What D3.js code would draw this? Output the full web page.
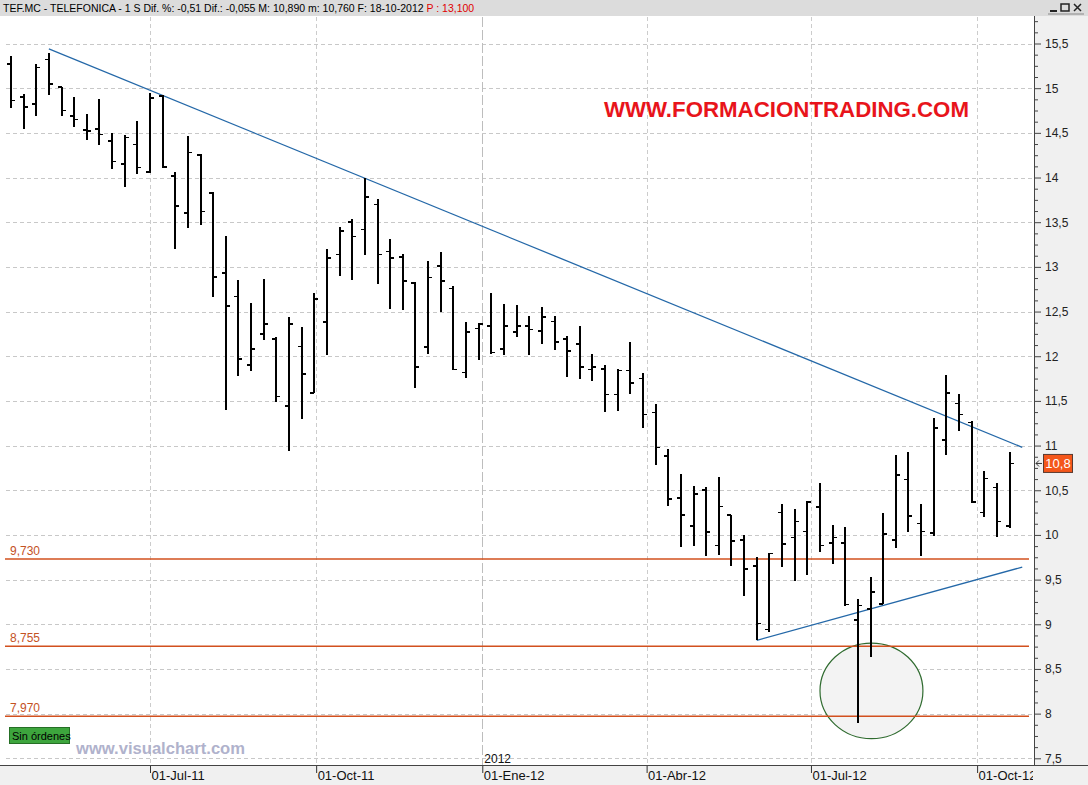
<!DOCTYPE html>
<meta charset="utf-8">
<style>
body { margin:0; background:#fff; }
svg { display:block; font-family:'Liberation Sans', Arial, sans-serif; }
</style>
<script src="https://d3js.org/d3.v7.min.js"></script>
<body>
<svg id="chart" width="1088" height="785"></svg>
<script>

// weekly bars, TEF.MC
var firstWeek = new Date(2011, 3, 15)
var opens = [15.27,14.90,14.82,15.32,15.01,14.69,14.53,14.54,14.41,14.15,
  14.37,14.06,14.91,14.02,13.60,14.25,13.83,12.93,12.67,11.90,
  12.25,12.19,11.44,12.11,11.59,12.38,13.14,13.50,13.42,13.70,
  13.17,13.11,12.82,12.10,13.01,12.76,11.82,12.31,12.34,12.08,
  12.27,12.34,12.28,12.39,12.19,12.14,11.85,11.86,11.57,11.84,
  11.75,11.37,10.88,10.41,10.10,10.50,9.88,10.22,9.94,9.65,
  8.94,10.25,9.97,10.04,10.31,9.91,9.91,9.05,9.17,9.23,
  9.94,10.62,10.13,10.02,11.06,11.47,11.26,10.25,10.53,10.10]
var highs = [15.36,14.94,15.27,15.39,15.01,14.90,14.71,14.88,14.50,14.48,
  14.63,14.95,14.92,14.06,14.47,14.26,13.84,13.35,12.85,12.60,
  12.86,12.22,12.44,12.33,12.71,13.20,13.45,13.54,13.99,13.76,
  13.31,13.14,12.83,13.07,13.17,12.79,12.38,12.37,12.71,12.58,
  12.57,12.45,12.55,12.45,12.23,12.34,12.03,11.90,11.86,12.16,
  11.81,11.47,10.96,10.68,10.55,10.54,10.65,10.22,10.00,9.75,
  9.80,10.35,10.29,10.38,10.58,10.11,10.09,9.28,9.53,10.24,
  10.89,10.93,10.35,11.31,11.79,11.58,11.27,10.72,10.58,10.93]
var lows = [14.78,14.54,14.69,14.92,14.69,14.56,14.42,14.36,14.10,13.89,
  14.04,14.05,14.11,13.20,13.43,13.47,12.66,11.40,11.78,11.84,
  12.18,11.49,10.94,11.30,11.59,12.01,12.90,12.85,13.13,12.81,
  12.53,12.52,11.64,12.02,12.49,11.85,11.76,11.96,12.02,12.01,
  12.22,12.01,12.14,12.07,11.77,11.74,11.72,11.38,11.39,11.58,
  11.20,10.78,10.32,9.87,9.88,9.76,9.78,9.65,9.32,8.82,
  8.91,9.64,9.48,9.55,9.81,9.67,9.21,7.90,8.63,9.23,
  9.85,10.03,9.76,9.99,10.89,11.16,10.36,10.20,9.98,10.08]
var closes = [14.86,14.79,15.23,15.05,14.75,14.65,14.52,14.48,14.18,14.45,
  14.11,14.89,14.12,13.68,14.28,13.62,12.89,12.56,11.97,12.08,
  12.36,11.55,12.36,11.80,12.64,13.10,13.40,13.34,13.78,13.14,
  13.10,12.84,11.88,12.88,12.84,11.85,12.27,12.36,12.04,12.34,
  12.34,12.30,12.44,12.16,12.06,11.88,11.88,11.57,11.84,11.70,
  11.35,10.98,10.40,10.22,10.46,10.03,10.32,9.93,9.62,9.01,
  9.79,9.90,10.15,10.37,9.88,9.97,9.22,9.21,9.36,10.01,
  10.67,10.21,10.04,11.20,11.59,11.35,10.37,10.63,10.15,10.80]

var quarterTicks = [new Date(2011,6,1), new Date(2011,9,1), new Date(2012,0,1),
  new Date(2012,3,1), new Date(2012,6,1), new Date(2012,9,1)]
var monthsEs = ["Ene","Feb","Mar","Abr","May","Jun","Jul","Ago","Sep","Oct","Nov","Dic"]

var levels = [9.73, 8.755, 7.97]
var levelLabels = ["9,730", "8,755", "7,970"]
var downTrend = [[new Date(2011,4,6), 15.44], [new Date(2012,9,26), 10.98]]
var upTrend = [[new Date(2012,5,1), 8.82], [new Date(2012,9,26), 9.64]]
var circleBox = [[new Date(2012,6,6), 8.79], [new Date(2012,8,1), 7.72]]
var lastPrice = 10.8

var width = 1088, height = 785
var plotRight = 1034, plotTop = 17, plotBottom = 765

var es = d3.formatLocale({decimal: ",", thousands: ".", grouping: [3], currency: ["", "€"]})
var fmt = es.format("~g")

var weeks = opens.map(function(d, i) { return d3.timeDay.offset(firstWeek, 7 * i) })
var bars = weeks.map(function(d, i) {
  return {date: d, o: opens[i], h: highs[i], l: lows[i], c: closes[i]}
})

var x = d3.scaleTime()
  .domain([quarterTicks[0], quarterTicks[5]])
  .range([150, 977.1])
var y = d3.scaleLinear()
  .domain([7.5, 15.5])
  .range([758.3, 43.5])

var svg = d3.select("#chart")

svg.append("rect").attr("width", width).attr("height", height).attr("fill", "#fff")

// header
svg.append("rect").attr("width", width).attr("height", plotTop - 1).attr("fill", "#dcdcdc")
var head = svg.append("text")
  .attr("x", 3).attr("y", 12)
  .style("font-size", "10.5px")
head.append("tspan")
  .text("TEF.MC - TELEFONICA - 1 S Dif. %: -0,51 Dif.: -0,055 M: 10,890 m: 10,760 F: 18-10-2012 ")
head.append("tspan").attr("fill", "#e00000").text("P : 13,100")

// window buttons
var btn = svg.append("g").attr("stroke", "#222").attr("fill", "none")
btn.append("line").attr("x1", 1050).attr("x2", 1057).attr("y1", 11).attr("y2", 11).attr("stroke-width", 2)
btn.append("rect").attr("x", 1061).attr("y", 4).attr("width", 8).attr("height", 7).attr("stroke-width", 1.5)
btn.append("path").attr("d", "M1074,4L1081,11M1081,4L1074,11").attr("stroke-width", 1.5)
btn.append("line").attr("x1", 1048).attr("x2", 1084).attr("y1", 14).attr("y2", 14).attr("stroke", "#888")

// grid
var yMajor = d3.range(7.5, 15.51, 0.5)
svg.append("g").selectAll("line")
  .data(yMajor)
  .enter().append("line")
  .attr("x1", 6).attr("x2", plotRight)
  .attr("y1", function(d) { return Math.round(y(d)) + 0.5 })
  .attr("y2", function(d) { return Math.round(y(d)) + 0.5 })
  .attr("stroke", "#c8c8c8").attr("stroke-dasharray", "4,3")

svg.append("g").selectAll("line")
  .data(quarterTicks)
  .enter().append("line")
  .attr("x1", function(d) { return Math.round(x(d)) + 0.5 })
  .attr("x2", function(d) { return Math.round(x(d)) + 0.5 })
  .attr("y1", plotTop).attr("y2", plotBottom)
  .attr("stroke", function(d) { return d.getMonth() == 0 ? "#bdbdbd" : "#cccccc" })
  .attr("stroke-dasharray", function(d) { return d.getMonth() == 0 ? "10,3" : "4,3" })

// circle around the spike
var cx0 = x(circleBox[0][0]), cx1 = x(circleBox[1][0])
var cy0 = y(circleBox[0][1]), cy1 = y(circleBox[1][1])
svg.append("ellipse")
  .attr("cx", (cx0 + cx1) / 2).attr("cy", (cy0 + cy1) / 2)
  .attr("rx", (cx1 - cx0) / 2).attr("ry", (cy1 - cy0) / 2)
  .attr("fill", "#f3f3f3").attr("stroke", "#2f6b2f").attr("stroke-width", 1.2)

// support levels
var lev = svg.append("g")
lev.selectAll("line")
  .data(levels)
  .enter().append("line")
  .attr("x1", 5).attr("x2", 1029)
  .attr("y1", function(d) { return y(d) }).attr("y2", function(d) { return y(d) })
  .attr("stroke", "#d2501e").attr("stroke-width", 1.5)
lev.selectAll("text")
  .data(levels)
  .enter().append("text")
  .attr("x", 10).attr("y", function(d) { return y(d) - 4 })
  .style("font-size", "12px").attr("fill", "#c4521f")
  .text(function(d, i) { return levelLabels[i] })

// trend lines
var line = d3.line()
  .x(function(d) { return x(d[0]) })
  .y(function(d) { return y(d[1]) })
svg.append("path").attr("d", line(downTrend))
  .attr("fill", "none").attr("stroke", "#2468a8").attr("stroke-width", 1.3)
svg.append("path").attr("d", line(upTrend))
  .attr("fill", "none").attr("stroke", "#2468a8").attr("stroke-width", 1.3)

// OHLC bars
var g = svg.append("g").attr("stroke", "#000").attr("shape-rendering", "crispEdges")
var bar = g.selectAll("g.bar")
  .data(bars)
  .enter().append("g").attr("class", "bar")
bar.append("line")
  .attr("x1", function(d) { return x(d.date) }).attr("x2", function(d) { return x(d.date) })
  .attr("y1", function(d) { return y(d.h) }).attr("y2", function(d) { return y(d.l) })
  .attr("stroke-width", 2)
bar.append("line")
  .attr("x1", function(d) { return x(d.date) - 4 }).attr("x2", function(d) { return x(d.date) })
  .attr("y1", function(d) { return y(d.o) }).attr("y2", function(d) { return y(d.o) })
  .attr("stroke-width", 1.6)
bar.append("line")
  .attr("x1", function(d) { return x(d.date) }).attr("x2", function(d) { return x(d.date) + 4 })
  .attr("y1", function(d) { return y(d.c) }).attr("y2", function(d) { return y(d.c) })
  .attr("stroke-width", 1.6)

// texts on the chart
svg.append("text")
  .attr("x", 604).attr("y", 117)
  .style("font-size", "22px").style("font-weight", "bold").attr("fill", "#e8141b")
  .attr("textLength", 365).attr("lengthAdjust", "spacingAndGlyphs")
  .text("WWW.FORMACIONTRADING.COM")

svg.append("text")
  .attr("x", 76).attr("y", 754)
  .style("font-size", "16px").style("font-weight", "bold").attr("fill", "#b0b2cc")
  .attr("textLength", 169).attr("lengthAdjust", "spacingAndGlyphs")
  .text("www.visualchart.com")

svg.append("rect")
  .attr("x", 9.5).attr("y", 727.5).attr("width", 60).attr("height", 16)
  .attr("fill", "#3da53d").attr("stroke", "#256f25")
svg.append("text")
  .attr("x", 12).attr("y", 740)
  .style("font-size", "11px").attr("fill", "#000")
  .text("Sin órdenes")

svg.append("text")
  .attr("x", x(quarterTicks[2]) + 2).attr("y", 763)
  .style("font-size", "12px").attr("fill", "#111")
  .text("2012")

// right axis panel
svg.append("rect")
  .attr("x", plotRight).attr("y", plotTop - 1)
  .attr("width", width - plotRight).attr("height", plotBottom - plotTop + 1)
  .attr("fill", "#f0f0f0")

var yMinor = d3.range(7.5, 15.76, 0.125).filter(function(d) { return d % 0.5 != 0 })
var yAxisMinor = svg.append("g")
  .attr("transform", "translate(" + plotRight + ",0)")
  .call(d3.axisRight(y).tickValues(yMinor).tickSize(4).tickFormat(""))
var yAxis = svg.append("g")
  .attr("transform", "translate(" + plotRight + ",0)")
  .call(d3.axisRight(y).tickValues(yMajor).tickSize(7).tickPadding(4).tickFormat(fmt))
yAxis.select(".domain").remove()
yAxisMinor.select(".domain").remove()
svg.selectAll("g.tick line").attr("stroke", "#444")
yAxis.selectAll("text")
  .style("font-size", "12px").style("font-family", "'Liberation Sans', Arial, sans-serif")
  .attr("fill", "#222")
svg.append("line")
  .attr("x1", plotRight + 0.5).attr("x2", plotRight + 0.5)
  .attr("y1", plotTop - 1).attr("y2", plotBottom)
  .attr("stroke", "#444")

// bottom date axis
svg.append("rect")
  .attr("x", 0).attr("y", plotBottom)
  .attr("width", width).attr("height", height - plotBottom)
  .attr("fill", "#f0f0f0")
// clip is in the axis group's own coordinates
svg.append("clipPath").attr("id", "xclip")
  .append("rect").attr("x", 0).attr("y", 0).attr("width", plotRight - 1).attr("height", 30)
var xAxis = svg.append("g")
  .attr("transform", "translate(0," + plotBottom + ")")
  .attr("clip-path", "url(#xclip)")
  .call(d3.axisBottom(x).tickValues(quarterTicks).tickSize(8).tickSizeOuter(0)
    .tickFormat(function(d) {
      return "01-" + monthsEs[d.getMonth()] + "-" + String(d.getFullYear()).slice(2)
    }))
xAxis.select(".domain").remove()
xAxis.selectAll("line").attr("stroke", "#333")
xAxis.selectAll("text")
  .attr("x", 1).attr("y", 6).attr("dy", "0.71em")
  .style("text-anchor", "start")
  .style("font-size", "13px").style("font-family", "'Liberation Sans', Arial, sans-serif")
  .attr("fill", "#111")
svg.append("line")
  .attr("x1", 0).attr("x2", width)
  .attr("y1", plotBottom + 0.5).attr("y2", plotBottom + 0.5)
  .attr("stroke", "#444")

// last price marker
var py = y(lastPrice)
svg.append("path")
  .attr("d", "M1042," + py + "L1036," + py + "M1039," + (py - 3) + "L1036," + py + "L1039," + (py + 3))
  .attr("fill", "none").attr("stroke", "#333")
svg.append("rect")
  .attr("x", 1043.5).attr("y", py - 9).attr("width", 29).attr("height", 18)
  .attr("fill", "#f4561a").attr("stroke", "#5a3a30")
svg.append("text")
  .attr("x", 1058).attr("y", py + 5)
  .style("font-size", "13px").style("text-anchor", "middle").attr("fill", "#fff")
  .text(fmt(lastPrice))

</script>
</body>
